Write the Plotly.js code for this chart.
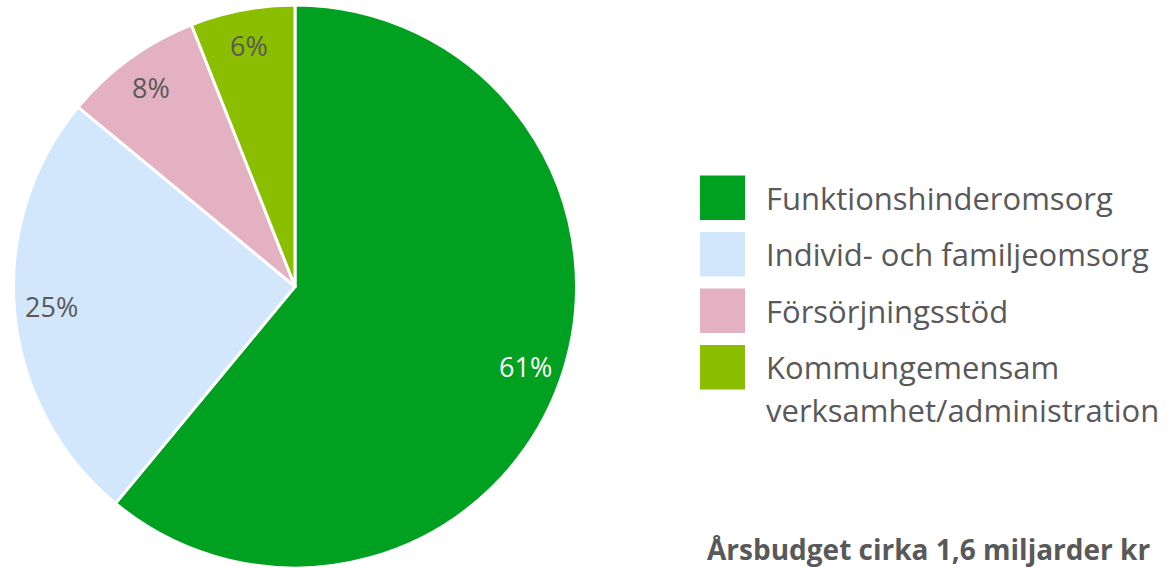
<!DOCTYPE html>
<html>
<head>
<meta charset="utf-8">
<script src="https://cdn.plot.ly/plotly-3.0.1.min.js"></script>
<style>
  html, body { margin: 0; padding: 0; background: #fff; }
  #chart { width: 1169px; height: 568px; }
</style>
</head>
<body>
<div id="chart"></div>
<script>
// budget shares (percent)
const categories = [
  'Funktionshinderomsorg',
  'Individ- och familjeomsorg',
  'Försörjningsstöd',
  'Kommungemensam<br>verksamhet/administration'
];
const shares = [61, 25, 8, 6];
const sliceColors = ['#00A020', '#D2E7FC', '#E3B1C1', '#8CBE00'];
const labelColors = ['#ffffff', '#595959', '#595959', '#595959'];
const footnote = 'Årsbudget cirka 1,6 miljarder kr';

const W = 1169, H = 568;
const textGrey = '#595959';
const fontFamily = '"Open Sans", "Noto Sans", sans-serif';

// pie geometry (pixels), matches domain + margin below
const cx = 295, cy = 286.5, radius = 281.5;

const pie = {
  type: 'pie',
  labels: categories,
  values: shares,
  sort: false,
  direction: 'clockwise',
  rotation: 0,
  marker: { colors: sliceColors, line: { color: '#ffffff', width: 3 } },
  textinfo: 'none',
  hoverinfo: 'label+percent',
  showlegend: false,
  domain: { x: [(cx - radius) / W, (cx + radius) / W], y: [0, 1] }
};

const shapes = [];
const annotations = [];

// percent labels placed out near the rim, like the original
const total = shares.reduce((a, b) => a + b, 0);
let cum = 0;
shares.forEach((v, i) => {
  const mid = (cum + v / 2) / total * 2 * Math.PI;
  cum += v;
  const r = radius * 0.87;
  annotations.push({
    xref: 'paper', yref: 'paper',
    x: (cx + r * Math.sin(mid)) / W,
    y: 1 - (cy - 5 - r * Math.cos(mid)) / H,
    xanchor: 'center', yanchor: 'middle',
    text: Math.round(v / total * 100) + '%', showarrow: false,
    font: { family: fontFamily, size: 27, color: labelColors[i] }
  });
});

// legend built by hand so the swatches can be big like the original
const rowTop = 172, rowStep = 57, box = 45;
categories.forEach((name, i) => {
  const top = rowTop + i * rowStep;
  shapes.push({
    type: 'rect', xref: 'paper', yref: 'paper',
    x0: 700 / W, x1: (700 + box) / W,
    y0: 1 - (top + box) / H, y1: 1 - top / H,
    fillcolor: sliceColors[i], line: { width: 0 }
  });
  name.split('<br>').forEach((line, j) => {
    annotations.push({
      xref: 'paper', yref: 'paper',
      x: 764 / W, y: 1 - (top + box / 2 + j * 43) / H,
      xanchor: 'left', yanchor: 'middle',
      text: line, showarrow: false,
      font: { family: fontFamily, size: 31, color: textGrey }
    });
  });
});

annotations.push({
  xref: 'paper', yref: 'paper',
  x: 705 / W, y: 1 - 549 / H,
  xanchor: 'left', yanchor: 'middle',
  text: '<b>' + footnote + '</b>', showarrow: false,
  font: { family: fontFamily, size: 28, color: textGrey }
});

const layout = {
  width: W,
  height: H,
  margin: { l: 0, r: 0, t: 5, b: 0 },
  paper_bgcolor: '#ffffff',
  plot_bgcolor: '#ffffff',
  showlegend: false,
  shapes: shapes,
  annotations: annotations
};

Plotly.newPlot('chart', [pie], layout, { displayModeBar: false, staticPlot: true });
</script>
</body>
</html>
